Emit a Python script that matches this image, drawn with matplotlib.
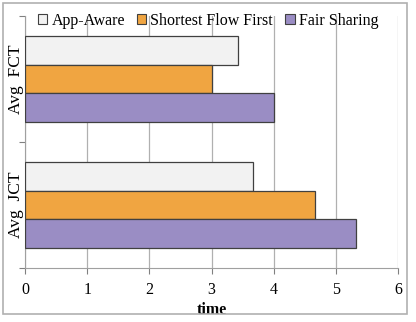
import matplotlib
matplotlib.use("Agg")
import matplotlib.pyplot as plt
from matplotlib.patches import Patch, Rectangle
import numpy as np

plt.rcParams['font.family'] = ['Liberation Serif', 'DejaVu Serif']

categories = ["Avg  JCT", "Avg  FCT"]
series = ["App-Aware", "Shortest Flow First", "Fair Sharing"]
app_aware = [3.66, 3.42]
shortest_flow_first = [4.67, 3.0]
fair_sharing = [5.33, 4.0]
xticks = [0, 1, 2, 3, 4, 5, 6]

colors = ["#f2f2f2", "#f0a541", "#9a8dc4"]
values = [app_aware, shortest_flow_first, fair_sharing]

W, H = 416, 322
fig = plt.figure(figsize=(W / 100, H / 100), dpi=100)
ax = fig.add_axes([25 / W, 1 - 268 / H, (398 - 25) / W, (268 - 16) / H])

h = 0.225
y = np.arange(len(categories))
offsets = [h, 0, -h]
for vals, c, off, name in zip(values, colors, offsets, series):
    ax.barh(y + off, vals, height=h, color=c, edgecolor="#404040", linewidth=0.9,
            label=name, zorder=3)

ax.set_xlim(0, 6)
ax.set_ylim(-0.5, 1.5)
ax.set_xticks(xticks)
ax.set_xticklabels([str(t) for t in xticks], fontsize=11.5)
ax.set_yticks([-0.5, 0.5, 1.5])
ax.set_yticklabels([])
ax.set_yticks(y, minor=True)
ax.set_yticklabels(categories, minor=True, rotation=90, va="center", fontsize=12.5)
ax.tick_params(axis="y", which="minor", length=0, pad=1)
ax.tick_params(axis="y", which="major", length=4, color="#808080", direction="out")
ax.tick_params(axis="x", length=4, color="#808080", direction="out", pad=6)
ax.grid(axis="x", color="#b0b0b0", linewidth=0.9, zorder=0)
for s in ["top", "right"]:
    ax.spines[s].set_visible(False)
for s in ["left", "bottom"]:
    ax.spines[s].set_color("#a0a0a0")
ax.set_xlabel("time", fontsize=11.5, fontweight="bold", labelpad=3)

handles = [Patch(facecolor=c, edgecolor="#404040", linewidth=0.8) for c in colors]
fig.legend(handles, series, loc="center", bbox_to_anchor=(208 / W, 1 - 21 / H), ncol=3,
           frameon=False, fontsize=11.5, handlelength=0.6, handleheight=0.6,
           handletextpad=0.25, columnspacing=0.75, borderpad=0)

fig.patches.append(Rectangle((3 / W, 1 - 314 / H), (407 - 3) / W, (314 - 3) / H,
                             transform=fig.transFigure, fill=False,
                             edgecolor="#b0b0b0", linewidth=1.2))

fig.savefig("out.png", dpi=100)
